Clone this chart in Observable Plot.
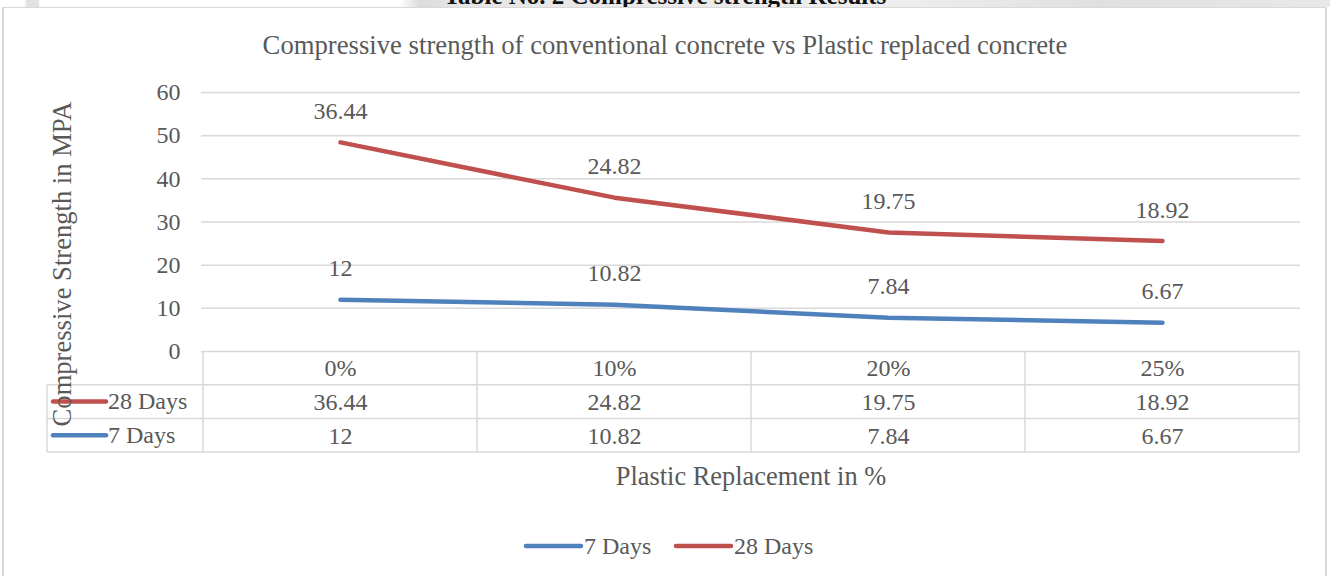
<!DOCTYPE html>
<html><head><meta charset="utf-8">
<script src="https://cdn.jsdelivr.net/npm/d3@7"></script>
<script src="https://cdn.jsdelivr.net/npm/@observablehq/plot@0.6"></script>
<style>
body{margin:0;background:#fff;}
#wrap{position:relative;width:1330px;height:576px;overflow:hidden;font-family:"Liberation Serif","Times New Roman",serif;background:#fff;}
#strip{position:absolute;left:0;top:0;width:1330px;height:7px;overflow:hidden;z-index:3;background:linear-gradient(to right,#fff 0,#fff 24px,#e2e2e2 27px,#e2e2e2 38px,#fff 40px,#fff 400px,#dcdcdc 420px,#e6e6e6 460px,#eeeeee 900px,#e0e0e0 1100px,#e8e8e8 1330px);}
#strip span{position:absolute;left:0;width:1330px;text-align:center;top:-18px;font-weight:bold;font-size:25px;color:#111;white-space:nowrap;font-family:"Liberation Serif",serif;}
#frame{position:absolute;left:2px;top:6px;width:1325px;height:620px;border:2px solid #d9d9d9;box-sizing:border-box;z-index:2;pointer-events:none;}
#chart{position:absolute;left:0;top:0;z-index:1;}
#chart svg text{font-family:"Liberation Serif","Times New Roman",serif;}
</style></head>
<body>
<div id="wrap">
  <div id="strip"><span>Table No. 2 Compressive strength Results</span></div>
  <div id="frame"></div>
  <div id="chart"></div>
</div>
<script>
const title = "Compressive strength of conventional concrete vs Plastic replaced concrete";
const xTitle = "Plastic Replacement in %";
const yTitle = "Compressive Strength in MPA";
const categories = ["0%", "10%", "20%", "25%"];
const series = ["7 Days", "28 Days"];
const days7 = [12, 10.82, 7.84, 6.67];
const days28 = [36.44, 24.82, 19.75, 18.92];
const colors = ["#4f81bd", "#c0504d"];
const yTicks = [0, 10, 20, 30, 40, 50, 60];

const textColor = "#595959";
const gridColor = "#d9d9d9";
const font = "Liberation Serif, Times New Roman, serif";

// stacked line (Excel "stacked line" chart): 28 Days sits on top of 7 Days
const rows = [];
categories.forEach((c, i) => {
  rows.push({cat: c, series: "7 Days", value: days7[i], top: days7[i]});
  rows.push({cat: c, series: "28 Days", value: days28[i], top: days7[i] + days28[i]});
});
const colorOf = s => colors[series.indexOf(s)];
const txt = {fontSize: 24, fill: textColor, fontFamily: font};

const chart = Plot.plot({
  width: 1330, height: 576,
  marginLeft: 201, marginRight: 30, marginTop: 92, marginBottom: 225,
  style: {background: "transparent", fontFamily: font, color: textColor, overflow: "visible"},
  x: {type: "point", domain: categories, padding: 0.5, axis: null},
  y: {domain: [0, 60], axis: null},
  marks: [
    Plot.gridY(yTicks, {stroke: gridColor, strokeOpacity: 1, strokeWidth: 1.5}),
    Plot.axisY(yTicks, {tickSize: 0, tickPadding: 21, label: null, ...txt}),
    Plot.line(rows, {x: "cat", y: "top", z: "series", stroke: d => colorOf(d.series), strokeWidth: 4.5, strokeLinecap: "round", strokeLinejoin: "round"}),
    Plot.text(rows, {x: "cat", y: "top", text: d => String(d.value), dy: -31, ...txt}),
    // data table text under the plot
    Plot.text(categories, {x: d => d, text: d => d, frameAnchor: "bottom", lineAnchor: "middle", dy: 17, ...txt}),
    Plot.text(rows.filter(d => d.series === "28 Days"), {x: "cat", text: d => String(d.value), frameAnchor: "bottom", lineAnchor: "middle", dy: 51, ...txt}),
    Plot.text(rows.filter(d => d.series === "7 Days"), {x: "cat", text: d => String(d.value), frameAnchor: "bottom", lineAnchor: "middle", dy: 85, ...txt})
  ]
});
document.getElementById("chart").appendChild(chart);

const svg = d3.select(chart);
const xs = chart.scale("x"), ys = chart.scale("y");
const pos = categories.map(c => xs.apply(c));
const step = pos[1] - pos[0];
const bounds = [pos[0] - step / 2, ...pos.map(p => p + step / 2)];
const y0 = ys.apply(0);
const rowH = 33.7;
const leftX = 47;
const right = bounds[bounds.length - 1];

const g = svg.append("g").attr("stroke", gridColor).attr("stroke-width", 1.5);
bounds.forEach(b => g.append("line").attr("x1", b).attr("x2", b).attr("y1", y0).attr("y2", y0 + 3 * rowH));
g.append("line").attr("x1", leftX).attr("x2", leftX).attr("y1", y0 + rowH).attr("y2", y0 + 3 * rowH);
[1, 2, 3].forEach(k => g.append("line").attr("x1", leftX).attr("x2", right).attr("y1", y0 + k * rowH).attr("y2", y0 + k * rowH));

function addText(x, y, s, size, anchor) {
  return svg.append("text").attr("x", x).attr("y", y).attr("dy", "0.32em")
    .attr("text-anchor", anchor).attr("font-size", size).attr("fill", textColor)
    .attr("font-family", font).text(s);
}

// row legend keys in table (28 Days row first, then 7 Days)
[["28 Days", 1], ["7 Days", 2]].forEach(([s, k]) => {
  const cy = y0 + k * rowH + rowH / 2;
  svg.append("line").attr("x1", 53).attr("x2", 106).attr("y1", cy).attr("y2", cy)
    .attr("stroke", colorOf(s)).attr("stroke-width", 4.5).attr("stroke-linecap", "round");
  addText(108, cy, s, 24, "start");
});

// title
addText(665, 45, title, 26.7, "middle");
// y title
svg.append("text").attr("transform", "translate(62,264) rotate(-90)").attr("dy", "0.32em").attr("text-anchor", "middle")
  .attr("font-size", 26.6).attr("fill", textColor).attr("font-family", font).text(yTitle);
// x title
addText((bounds[0] + right) / 2, 477, xTitle, 26.4, "middle");

// bottom legend
const legendItems = [{s: "7 Days", x: 526}, {s: "28 Days", x: 676}];
legendItems.forEach(({s, x}) => {
  svg.append("line").attr("x1", x).attr("x2", x + 55).attr("y1", 546).attr("y2", 546)
    .attr("stroke", colorOf(s)).attr("stroke-width", 4.5).attr("stroke-linecap", "round");
  addText(x + 58, 546, s, 24, "start");
});
</script>
</body></html>
